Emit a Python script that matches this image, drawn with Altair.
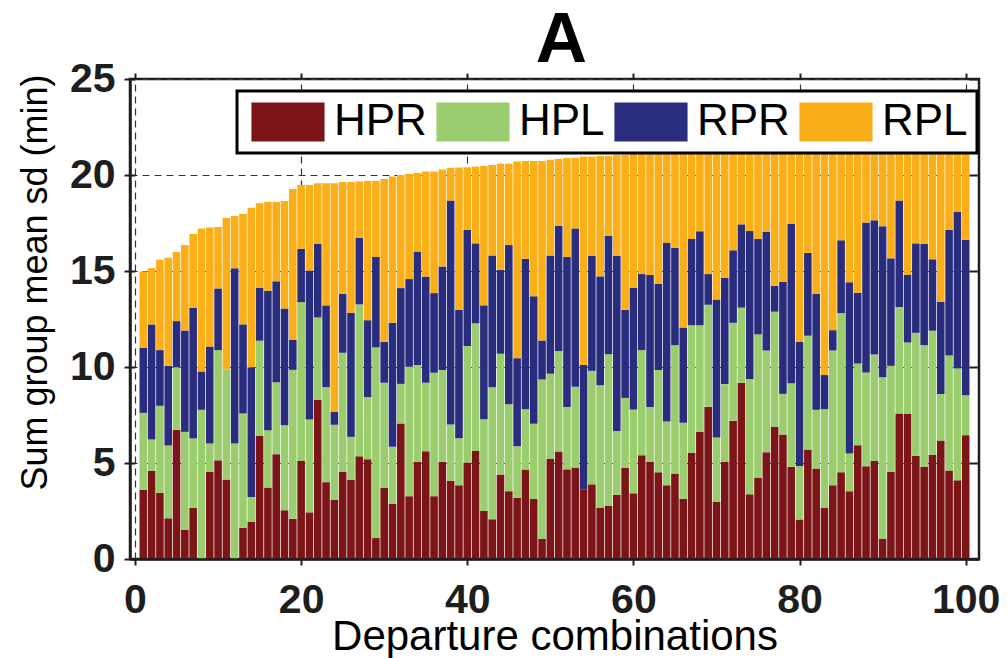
import altair as alt
import pandas as pd

combos = list(range(1, 101))
series = ["HPR", "HPL", "RPR", "RPL"]
colors = ["#7B1518", "#9BCD6E", "#2A2D7D", "#FAAF19"]

HPR = [3.60, 4.59, 3.44, 2.12, 6.73, 1.53, 2.66, 0.00, 4.54, 5.14,
       4.14, 0.00, 1.63, 1.93, 6.40, 3.72, 5.46, 2.54, 2.09, 5.11,
       2.43, 8.29, 4.00, 3.09, 4.54, 4.12, 5.35, 5.20, 1.09, 3.70,
       2.87, 7.06, 3.27, 5.06, 5.61, 3.27, 5.06, 4.08, 3.84, 5.02,
       5.63, 2.50, 2.07, 4.40, 3.53, 3.18, 4.66, 3.13, 1.06, 5.21,
       5.60, 4.67, 4.76, 3.61, 3.89, 2.68, 2.78, 3.35, 4.74, 3.42,
       5.40, 5.06, 4.52, 3.84, 4.45, 3.13, 5.54, 6.62, 7.92, 2.99,
       5.06, 7.19, 9.18, 3.37, 4.24, 5.56, 6.88, 6.48, 4.81, 2.05,
       5.70, 4.71, 2.68, 3.84, 4.52, 3.53, 5.93, 4.83, 5.11, 1.06,
       4.54, 7.58, 7.56, 5.37, 4.81, 5.42, 6.17, 4.61, 4.10, 6.45]
HPL = [4.01, 1.63, 4.54, 3.79, 3.25, 5.09, 3.61, 7.77, 1.47, 5.74,
       5.73, 6.01, 5.95, 1.30, 4.97, 2.99, 3.75, 4.43, 7.76, 8.27,
       4.83, 4.29, 4.95, 3.90, 6.20, 2.24, 7.91, 3.23, 9.93, 5.48,
       2.97, 2.06, 6.74, 5.04, 3.57, 6.43, 4.78, 2.92, 2.45, 6.07,
       6.64, 4.78, 6.88, 6.29, 4.53, 2.69, 3.14, 3.91, 8.29, 4.44,
       5.23, 3.25, 4.21, 0.00, 5.91, 6.37, 7.89, 3.32, 3.65, 4.37,
       5.48, 2.86, 5.32, 3.32, 6.69, 3.96, 6.63, 5.55, 5.32, 3.34,
       4.05, 5.11, 3.91, 6.01, 7.46, 5.30, 6.00, 2.12, 4.35, 2.80,
       5.93, 3.06, 5.12, 7.02, 8.29, 1.96, 4.25, 4.89, 5.54, 8.41,
       5.52, 5.54, 3.72, 6.41, 6.33, 6.47, 2.43, 5.99, 5.82, 2.08]
RPR = [3.39, 6.00, 2.90, 4.15, 2.41, 5.28, 6.82, 2.00, 5.06, 3.21,
       0.00, 9.13, 4.64, 6.76, 2.76, 7.26, 5.25, 6.08, 1.57, 2.77,
       7.77, 3.84, 4.26, 0.67, 3.06, 6.47, 3.46, 4.01, 4.71, 2.13,
       6.46, 4.99, 4.57, 5.91, 5.54, 4.15, 5.40, 11.67, 6.69, 6.05,
       4.17, 5.93, 6.86, 4.36, 8.29, 4.59, 7.84, 6.64, 2.03, 6.16,
       6.53, 7.81, 8.25, 6.50, 6.00, 5.67, 6.17, 9.13, 4.59, 6.32,
       3.96, 6.87, 4.50, 9.30, 5.07, 4.97, 4.50, 4.90, 1.60, 7.19,
       5.52, 3.78, 4.34, 7.70, 4.97, 6.17, 1.35, 5.84, 8.29, 6.46,
       4.31, 6.05, 1.78, 1.06, 3.79, 8.92, 3.69, 7.80, 6.99, 7.86,
       5.60, 5.55, 3.53, 4.66, 5.28, 3.72, 4.78, 6.54, 8.15, 8.10]
RPL = [3.98, 2.93, 4.71, 5.63, 3.60, 4.45, 3.84, 7.45, 6.19, 3.20,
       7.89, 2.73, 5.75, 8.31, 4.40, 4.63, 4.14, 5.60, 7.85, 3.33,
       4.45, 3.15, 6.36, 11.91, 5.84, 6.81, 2.95, 7.25, 3.96, 8.48,
       7.62, 5.89, 5.48, 4.10, 5.46, 6.33, 5.04, 1.70, 7.41, 3.26,
       4.00, 7.26, 4.71, 5.54, 4.24, 10.24, 5.09, 7.05, 9.35, 4.98,
       3.48, 5.16, 3.67, 10.85, 5.16, 6.28, 4.16, 5.25, 8.07, 6.99,
       6.26, 6.34, 6.88, 4.78, 5.05, 9.22, 4.63, 4.25, 6.49, 7.83,
       6.74, 5.30, 3.97, 4.33, 4.76, 4.41, 7.23, 7.04, 4.04, 10.20,
       5.59, 7.72, 11.98, 9.65, 4.99, 7.19, 7.75, 4.11, 4.01, 4.33,
       6.02, 3.03, 6.91, 5.30, 5.34, 6.17, 8.43, 4.70, 3.81, 5.32]

x_ticks = [0, 20, 40, 60, 80, 100]
y_ticks = [0, 5, 10, 15, 20, 25]

rows = []
for k, (name, vals) in enumerate(zip(series, [HPR, HPL, RPR, RPL])):
    for c, v in zip(combos, vals):
        rows.append({"combo": c, "group": name, "value": v, "k": k})
df = pd.DataFrame(rows)

FONT = "Liberation Sans"
INK = "#1e1e1e"
xscale = alt.Scale(domain=[0, 101], nice=False, zero=False)
yscale = alt.Scale(domain=[0, 25], nice=False)

bars = alt.Chart(df).mark_bar(size=7.6).encode(
    x=alt.X("combo:Q", scale=xscale, axis=alt.Axis(
        orient="bottom", values=x_ticks, title="Departure combinations",
        grid=False, tickSize=6, tickWidth=2, tickColor=INK,
        domainColor=INK, domainWidth=2.5, labelFont=FONT, labelFontSize=41,
        labelFontWeight="bold", labelColor=INK, labelPadding=47,
        labelBaseline="alphabetic", labelFlush=False,
        titleFont=FONT, titleFontSize=42, titleFontWeight="normal",
        titleColor="black", titleBaseline="alphabetic", titleY=90, zindex=1)),
    y=alt.Y("value:Q", stack="zero", scale=yscale, axis=alt.Axis(
        orient="left", values=y_ticks, title="Sum group mean sd (min)",
        grid=False, tickSize=6, tickWidth=2, tickColor=INK,
        domainColor=INK, domainWidth=2.5, labelFont=FONT, labelFontSize=41,
        labelFontWeight="bold", labelColor=INK, labelPadding=9,
        labelFlush=False,
        titleFont=FONT, titleFontSize=36, titleFontWeight="normal",
        titleColor="black", titleX=-95, titleY=203, titleAngle=270,
        titleAlign="center", titleBaseline="middle", zindex=1)),
    color=alt.Color("group:N", scale=alt.Scale(domain=series, range=colors),
                    legend=alt.Legend(
                        orient="none", legendX=107, legendY=12, title=None,
                        direction="horizontal", columns=4, gridAlign="each",
                        symbolType="M-0.85,-1L2.9,-1L2.9,1L-0.85,1Z",
                        symbolSize=1521, symbolStrokeWidth=0, symbolOpacity=1,
                        labelFont=FONT, labelFontSize=44, labelColor="black",
                        labelOffset=44, columnPadding=4, padding=9,
                        strokeColor="black", fillColor="white",
                        labelLimit=300)),
    order=alt.Order("k:Q", sort="ascending"),
)

grid_layer = alt.Chart(df).mark_point(opacity=0).encode(
    x=alt.X("combo:Q", scale=xscale, axis=alt.Axis(
        orient="top", values=x_ticks, labels=False, title=None, domain=False,
        tickSize=6, tickWidth=2, tickColor=INK, grid=True, gridDash=[7, 5],
        gridColor="#333333", gridWidth=1.2, zindex=0)),
    y=alt.Y("value:Q", scale=yscale, axis=alt.Axis(
        orient="left", values=y_ticks, labels=False, title=None, domain=False,
        ticks=False, grid=True, gridDash=[7, 5], gridColor="#333333",
        gridWidth=1.2, zindex=0)),
)

right_layer = alt.Chart(df).mark_point(opacity=0).encode(
    x=alt.X("combo:Q", scale=xscale, axis=None),
    y=alt.Y("value:Q", scale=yscale, axis=alt.Axis(
        orient="right", offset=-10, tickSize=10, tickWidth=2, tickColor=INK,
        values=y_ticks, labels=False, title=None, domain=False, grid=False,
        zindex=1)),
)

left_in_layer = alt.Chart(df).mark_point(opacity=0).encode(
    x=alt.X("combo:Q", scale=xscale, axis=None),
    y=alt.Y("value:Q", scale=yscale, axis=alt.Axis(
        orient="left", offset=-5, tickSize=5, tickWidth=2, tickColor=INK,
        values=y_ticks, labels=False, title=None, domain=False, grid=False,
        zindex=1)),
)

chart = alt.layer(grid_layer, bars, right_layer, left_in_layer).resolve_axis(
    x="independent", y="independent"
).properties(
    width=849, height=480,
    autosize=alt.AutoSizeParams(type="none"),
    padding={"left": 122, "top": 71, "right": 21, "bottom": 99},
    title=alt.TitleParams("A", font=FONT, fontSize=71, fontWeight="bold",
                          color="black", anchor="middle", offset=8, dx=7, dy=27),
).configure_view(stroke=INK, strokeWidth=2.5).configure_legend(strokeWidth=3)

chart.save("out.html", embed_options={"renderer": "svg", "actions": False})
